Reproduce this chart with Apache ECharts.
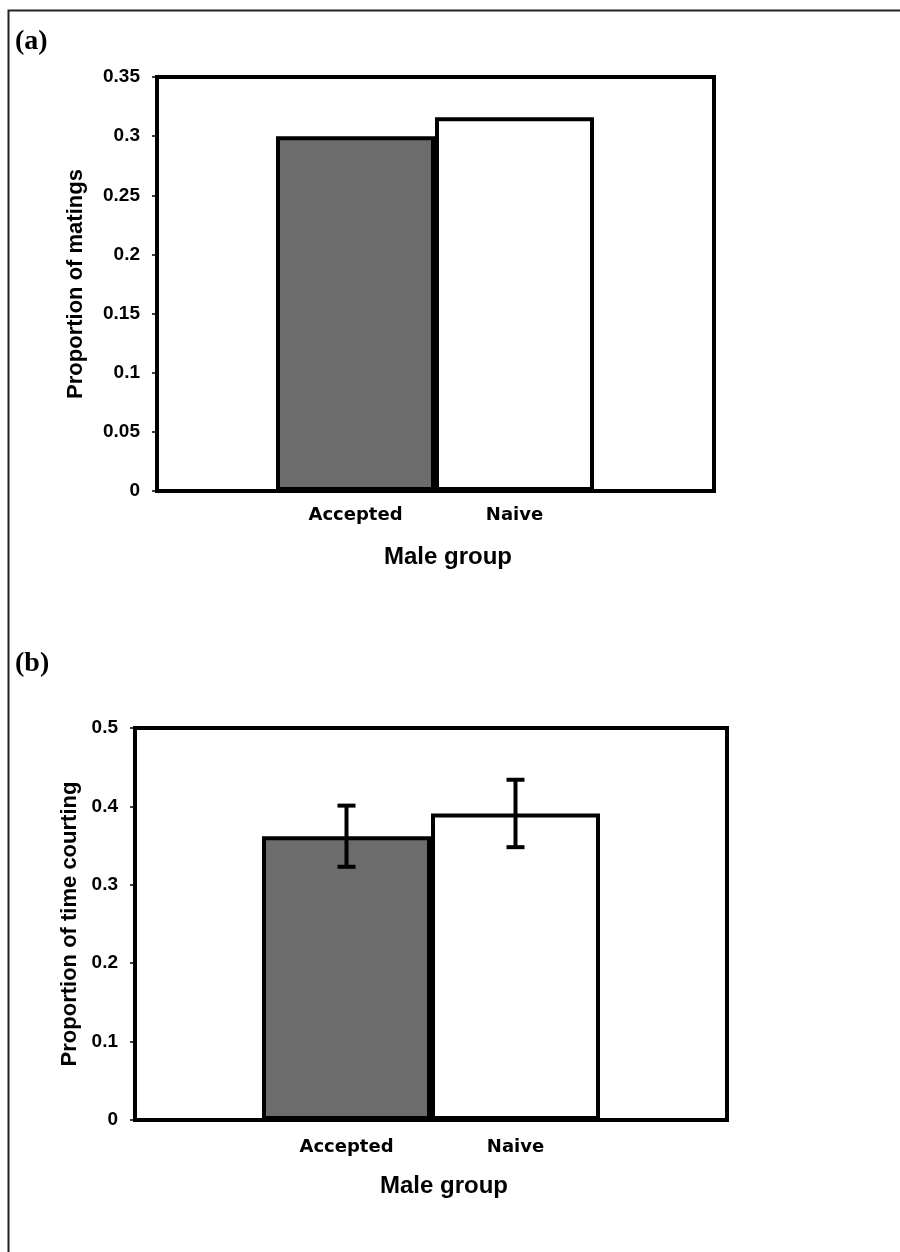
<!DOCTYPE html>
<html>
<head>
<meta charset="utf-8">
<script src="https://cdn.jsdelivr.net/npm/echarts@6/dist/echarts.min.js"></script>
<style>
html,body{margin:0;padding:0;background:#fff;}
#chart{width:900px;height:1252px;}
</style>
</head>
<body>
<div id="chart"></div>
<script>
// ---- data ----
var categories = ['Accepted', 'Naive'];
var matingValues = [0.30, 0.316];            // panel (a)
var courtingValues = [0.362, 0.391];         // panel (b)
var courtingErrors = [0.039, 0.043];         // panel (b) +/- error
var yTicksA = [0, 0.05, 0.1, 0.15, 0.2, 0.25, 0.3, 0.35];
var yTicksB = [0, 0.1, 0.2, 0.3, 0.4, 0.5];

// ---- styles ----
var FONT = '"Liberation Sans", Arial, sans-serif';
var CATFONT = '"DejaVu Sans", Verdana, sans-serif';
var barColors = ['#6c6c6c', '#ffffff'];
var chart = echarts.init(document.getElementById('chart'), null, {renderer: 'canvas'});

function fmt(v){ return String(+v.toFixed(2)); }

function boxYAxis(gridIndex, ticks, name, nameGap, fs){
  return {
    type: 'value', gridIndex: gridIndex,
    min: ticks[0], max: ticks[ticks.length-1], interval: ticks[1]-ticks[0],
    axisLine: {show: true, lineStyle: {color: '#000', width: 4}},
    axisTick: {show: true, length: 5, lineStyle: {color: '#000', width: 1.5}},
    splitLine: {show: false},
    axisLabel: {color: '#000', fontFamily: FONT, fontWeight: 'bold', fontSize: fs, margin: 17, formatter: fmt},
    name: name, nameLocation: 'middle', nameGap: nameGap, nameRotate: 90,
    nameTextStyle: {color: '#000', fontFamily: FONT, fontWeight: 'bold', fontSize: 22}
  };
}
function barYAxis(gridIndex, ticks){
  return {type: 'value', gridIndex: gridIndex, min: ticks[0], max: ticks[ticks.length-1],
    interval: ticks[1]-ticks[0], show: false};
}
function barXAxis(gridIndex, margin){
  return {
    type: 'category', gridIndex: gridIndex, data: categories,
    axisLine: {show: false}, axisTick: {show: false},
    axisLabel: {color: '#000', fontFamily: CATFONT, fontWeight: 'bold', fontSize: 18, margin: margin},
    name: 'Male group', nameLocation: 'middle', nameGap: 54,
    nameTextStyle: {color: '#000', fontFamily: FONT, fontWeight: 'bold', fontSize: 24, padding: [0,0,0,26]}
  };
}
function barData(vals){
  return vals.map(function(v, i){
    return {value: v, itemStyle: {color: barColors[i], borderColor: '#000', borderWidth: 4}};
  });
}

var errData = categories.map(function(c, i){
  return [i, courtingValues[i] - courtingErrors[i], courtingValues[i] + courtingErrors[i]];
});

var option = {
  animation: false,
  backgroundColor: '#fff',
  grid: [
    {left: 157, right: 186, top: 77, height: 414, show: true, borderColor: '#000', borderWidth: 4, backgroundColor: 'transparent'},
    {left: 276, width: 318, top: 77, height: 414},
    {left: 135, right: 173, top: 728, height: 392, show: true, borderColor: '#000', borderWidth: 4, backgroundColor: 'transparent'},
    {left: 262, width: 338, top: 728, height: 392}
  ],
  xAxis: [
    {type: 'value', gridIndex: 0, show: false, min: 0, max: 1},
    barXAxis(1, 15),
    {type: 'value', gridIndex: 2, show: false, min: 0, max: 1},
    barXAxis(3, 18)
  ],
  yAxis: [
    boxYAxis(0, yTicksA, 'Proportion of matings', 70, 19),
    barYAxis(1, yTicksA),
    boxYAxis(2, yTicksB, 'Proportion of time courting', 46, 19),
    barYAxis(3, yTicksB)
  ],
  series: [
    {type: 'bar', xAxisIndex: 1, yAxisIndex: 1, barCategoryGap: 0, data: barData(matingValues)},
    {type: 'bar', xAxisIndex: 3, yAxisIndex: 3, barCategoryGap: 0, data: barData(courtingValues)},
    {
      type: 'custom', xAxisIndex: 3, yAxisIndex: 3, data: errData, z: 10,
      renderItem: function(params, api){
        var lo = api.coord([api.value(0), api.value(1)]);
        var hi = api.coord([api.value(0), api.value(2)]);
        var hw = 9;
        var st = {stroke: '#000', lineWidth: 4};
        return {type: 'group', children: [
          {type: 'line', shape: {x1: hi[0], y1: hi[1], x2: lo[0], y2: lo[1]}, style: st},
          {type: 'line', shape: {x1: hi[0]-hw, y1: hi[1], x2: hi[0]+hw, y2: hi[1]}, style: st},
          {type: 'line', shape: {x1: lo[0]-hw, y1: lo[1], x2: lo[0]+hw, y2: lo[1]}, style: st}
        ]};
      }
    }
  ],
  graphic: [
    {type: 'rect', left: 6, top: 8, shape: {width: 1000, height: 1400}, style: {fill: 'none', stroke: '#222', lineWidth: 2}, z: -1},
    {type: 'text', left: 15, top: 28, style: {text: '(a)', fill: '#000', font: 'bold 28px "Liberation Serif", "Times New Roman", serif'}},
    {type: 'text', left: 15, top: 650, style: {text: '(b)', fill: '#000', font: 'bold 28px "Liberation Serif", "Times New Roman", serif'}}
  ]
};
chart.setOption(option);
</script>
</body>
</html>
